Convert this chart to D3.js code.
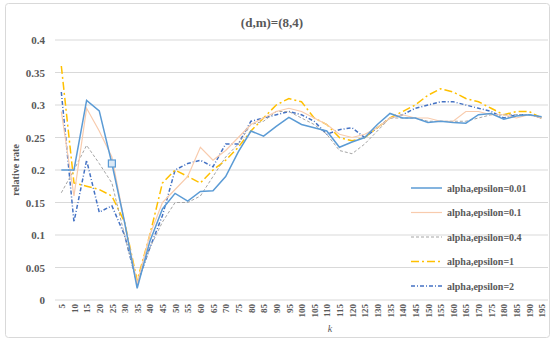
<!DOCTYPE html>
<html>
<head>
<meta charset="utf-8">
<script src="https://cdn.jsdelivr.net/npm/d3@7"></script>
<style>
  body { margin: 0; background: #fff; }
  text { font-family: "Liberation Serif", "DejaVu Serif", serif; }
</style>
</head>
<body>
<div id="chart"></div>
<script>
// chart data
var kValues = d3.range(5, 200, 5);
var yTicks = [0, 0.05, 0.1, 0.15, 0.2, 0.25, 0.3, 0.35, 0.4];
var seriesNames = ["alpha,epsilon=0.01", "alpha,epsilon=0.1", "alpha,epsilon=0.4", "alpha,epsilon=1", "alpha,epsilon=2"];

var eps001 = [0.2, 0.2, 0.307, 0.291, 0.21, 0.12, 0.018, 0.09, 0.14, 0.164, 0.152, 0.167, 0.168, 0.19, 0.228,
  0.26, 0.252, 0.267, 0.281, 0.27, 0.265, 0.26, 0.235, 0.243, 0.25, 0.27, 0.287, 0.28, 0.28, 0.273,
  0.275, 0.273, 0.272, 0.285, 0.287, 0.278, 0.283, 0.285, 0.282];
var eps01 = [0.29, 0.16, 0.295, 0.26, 0.22, 0.12, 0.025, 0.1, 0.15, 0.17, 0.19, 0.235, 0.215, 0.23, 0.25,
  0.27, 0.28, 0.29, 0.295, 0.29, 0.28, 0.27, 0.255, 0.25, 0.255, 0.265, 0.28, 0.285, 0.28, 0.28,
  0.275, 0.275, 0.29, 0.29, 0.285, 0.285, 0.28, 0.285, 0.28];
var eps04 = [0.165, 0.2, 0.238, 0.21, 0.18, 0.1, 0.025, 0.08, 0.12, 0.15, 0.15, 0.16, 0.19, 0.22, 0.24,
  0.27, 0.275, 0.29, 0.29, 0.28, 0.27, 0.255, 0.23, 0.225, 0.24, 0.26, 0.28, 0.28, 0.28, 0.275,
  0.275, 0.275, 0.275, 0.28, 0.285, 0.285, 0.285, 0.285, 0.28];
var eps1 = [0.36, 0.18, 0.175, 0.17, 0.16, 0.12, 0.03, 0.1, 0.18, 0.2, 0.19, 0.18, 0.2, 0.215, 0.235,
  0.26, 0.28, 0.3, 0.31, 0.305, 0.28, 0.27, 0.25, 0.245, 0.25, 0.265, 0.28, 0.29, 0.3, 0.315,
  0.325, 0.32, 0.31, 0.305, 0.295, 0.285, 0.29, 0.29, 0.28];
var eps2 = [0.32, 0.12, 0.215, 0.135, 0.145, 0.1, 0.025, 0.08, 0.13, 0.2, 0.21, 0.215, 0.205, 0.24, 0.24,
  0.275, 0.28, 0.285, 0.29, 0.285, 0.275, 0.255, 0.262, 0.265, 0.25, 0.265, 0.28, 0.285, 0.295, 0.3,
  0.305, 0.305, 0.3, 0.295, 0.29, 0.28, 0.285, 0.285, 0.28];

var allSeries = [eps001, eps01, eps04, eps1, eps2];
var colors = ["#5b9bd5", "#f8cbad", "#a5a5a5", "#ffc000", "#4472c4"];
var dashes = [null, null, "3,2", "8,3,2,3", "4,2,1,2"];
var widths = [1.5, 1.2, 1, 1.5, 1.5];

var width = 555, height = 341;
var margin = {top: 40, right: 7, bottom: 41, left: 55};

var svg = d3.select("#chart")
    .append("svg")
    .attr("width", width)
    .attr("height", height);

svg.append("rect")
    .attr("x", 5.5).attr("y", 3.5)
    .attr("width", 544).attr("height", 334)
    .attr("rx", 3)
    .style("fill", "#fff")
    .style("stroke", "#d9d9d9");

var x = d3.scalePoint()
    .domain(kValues)
    .range([margin.left, width - margin.right])
    .padding(0.5);

var y = d3.scaleLinear()
    .domain([0, 0.4])
    .range([height - margin.bottom, margin.top]);

// gridlines
svg.append("g")
    .selectAll("line")
    .data(yTicks)
    .enter().append("line")
    .attr("x1", margin.left)
    .attr("x2", width - margin.right)
    .attr("y1", function(d) { return y(d); })
    .attr("y2", function(d) { return y(d); })
    .style("stroke", "#d9d9d9")
    .style("stroke-width", 1);

// y axis labels
var yAxis = svg.append("g")
    .attr("transform", "translate(" + margin.left + ",0)")
    .call(d3.axisLeft(y).tickValues(yTicks).tickSize(0).tickPadding(10)
        .tickFormat(function(d) { return String(d); }));
yAxis.select(".domain").remove();
yAxis.selectAll("text")
    .style("font-size", "11px")
    .style("font-weight", "bold")
    .style("fill", "#595959")
    .style("font-family", "Liberation Serif, serif");

// x axis labels
var xAxis = svg.append("g")
    .attr("transform", "translate(0," + (height - margin.bottom) + ")")
    .call(d3.axisBottom(x).tickSize(0).tickPadding(0));
xAxis.select(".domain").remove();
xAxis.selectAll("text")
    .attr("transform", "rotate(-90)")
    .attr("x", -4)
    .attr("y", 0)
    .attr("dy", "0.35em")
    .style("text-anchor", "end")
    .style("font-size", "9px")
    .style("font-weight", "bold")
    .style("fill", "#595959")
    .style("font-family", "Liberation Serif, serif");

// title and axis titles
svg.append("text")
    .attr("x", 272).attr("y", 27)
    .attr("text-anchor", "middle")
    .style("font-size", "13px")
    .style("font-weight", "bold")
    .style("fill", "#595959")
    .text("(d,m)=(8,4)");

svg.append("text")
    .attr("transform", "translate(19,170) rotate(-90)")
    .attr("text-anchor", "middle")
    .style("font-size", "10px")
    .style("font-weight", "bold")
    .style("fill", "#595959")
    .text("relative  rate");

svg.append("text")
    .attr("x", 330).attr("y", 332)
    .attr("text-anchor", "middle")
    .style("font-size", "10px")
    .style("font-style", "italic")
    .style("fill", "#595959")
    .text("k");

// lines
var line = d3.line()
    .x(function(d, i) { return x(kValues[i]); })
    .y(function(d) { return y(d); });

var g = svg.append("g").attr("class", "lines");
// draw in reverse so first series sits on top
[4, 3, 2, 1, 0].forEach(function(s) {
    g.append("path")
        .datum(allSeries[s])
        .attr("d", line)
        .style("fill", "none")
        .style("stroke", colors[s])
        .style("stroke-width", widths[s])
        .style("stroke-dasharray", dashes[s]);
});

// selected point marker on first series
g.append("rect")
    .attr("x", x(25) - 3.5)
    .attr("y", y(eps001[4]) - 3.5)
    .attr("width", 7).attr("height", 7)
    .style("fill", "#dbe9f6")
    .style("stroke", colors[0])
    .style("stroke-width", 1.2);

// legend
var legend = svg.append("g")
    .selectAll("g")
    .data(seriesNames)
    .enter().append("g")
    .attr("transform", function(d, i) { return "translate(411," + (188 + i * 24.5) + ")"; });

legend.append("line")
    .attr("x1", 0).attr("x2", 31)
    .style("stroke", function(d, i) { return colors[i]; })
    .style("stroke-width", function(d, i) { return widths[i]; })
    .style("stroke-dasharray", function(d, i) { return dashes[i]; });

legend.append("text")
    .attr("x", 36)
    .attr("dy", "0.35em")
    .style("font-size", "10px")
    .style("font-weight", "bold")
    .style("fill", "#595959")
    .text(function(d) { return d; });
</script>
</body>
</html>
